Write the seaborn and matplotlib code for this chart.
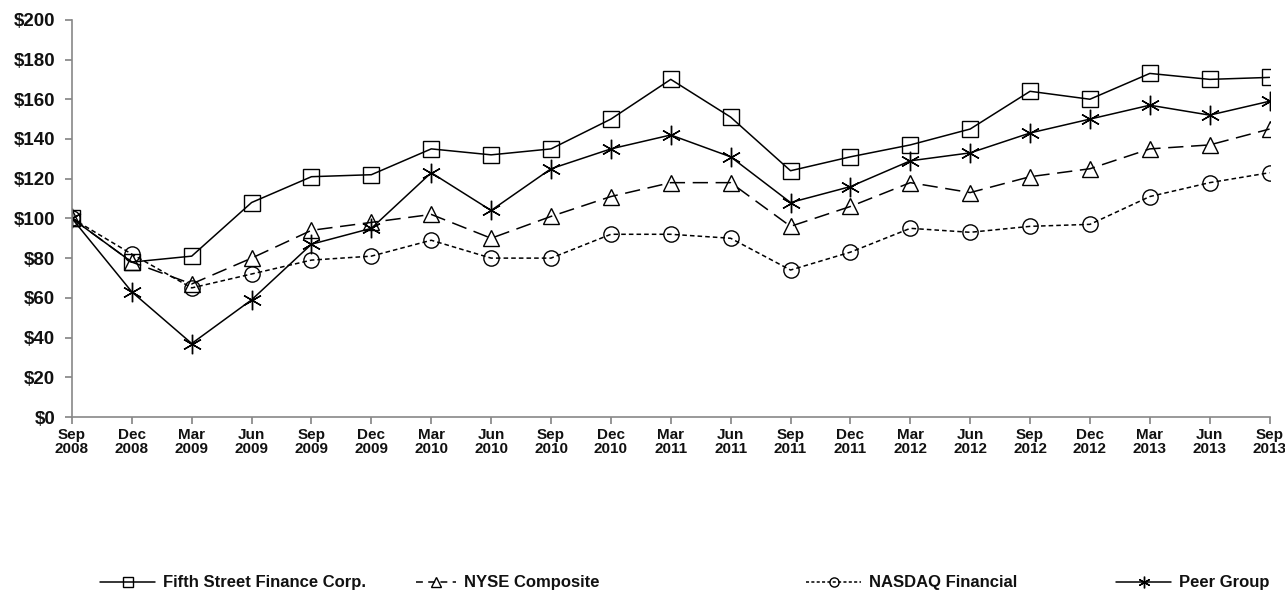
import matplotlib
matplotlib.use("Agg")
import matplotlib.pyplot as plt
from matplotlib.lines import Line2D
import seaborn as sns
import pandas as pd
import numpy as np

quarters = ["Sep\n2008", "Dec\n2008", "Mar\n2009", "Jun\n2009", "Sep\n2009", "Dec\n2009",
            "Mar\n2010", "Jun\n2010", "Sep\n2010", "Dec\n2010", "Mar\n2011", "Jun\n2011",
            "Sep\n2011", "Dec\n2011", "Mar\n2012", "Jun\n2012", "Sep\n2012", "Dec\n2012",
            "Mar\n2013", "Jun\n2013", "Sep\n2013"]

fifth_street = [100, 78, 81, 108, 121, 122, 135, 132, 135, 150, 170, 151, 124, 131, 137, 145, 164, 160, 173, 170, 171]
nyse_composite = [100, 78, 67, 80, 94, 98, 102, 90, 101, 111, 118, 118, 96, 106, 118, 113, 121, 125, 135, 137, 145]
nasdaq_financial = [100, 82, 65, 72, 79, 81, 89, 80, 80, 92, 92, 90, 74, 83, 95, 93, 96, 97, 111, 118, 123]
peer_group = [100, 63, 37, 59, 87, 95, 123, 104, 125, 135, 142, 131, 108, 116, 129, 133, 143, 150, 157, 152, 159]

series_names = ["Fifth Street Finance Corp.", "NYSE Composite", "NASDAQ Financial", "Peer Group"]
series_values = [fifth_street, nyse_composite, nasdaq_financial, peer_group]

sns.set_theme(style="white")
plt.rcParams['font.family'] = ['Liberation Sans', 'DejaVu Sans']
plt.rcParams['text.color'] = '#111111'
plt.rcParams['xtick.labelcolor'] = '#111111'
plt.rcParams['ytick.labelcolor'] = '#111111'

fig = plt.figure(figsize=(12.85, 6.0), dpi=100)
ax = fig.add_axes([0.056, 0.305, 0.932, 0.662])

styles = [
    dict(marker="s", linestyle="-", markersize=11, hl=3.3, legls="-"),
    dict(marker="^", linestyle=(0, (10, 5)), markersize=11, hl=2.4, legls=(0, (4.5, 3.5))),
    dict(marker="o", linestyle=(0, (3, 2)), markersize=11, hl=3.3, legls=(0, (2, 1.5))),
    dict(marker=(6, 2, 0), linestyle="-", markersize=14, hl=3.3, legls="-"),
]

x = np.arange(len(quarters))
for name, vals, st in zip(series_names, series_values, styles):
    df = pd.DataFrame({"q": x, "v": vals})
    sns.lineplot(data=df, x="q", y="v", ax=ax, color="black", linewidth=1.1,
                 marker=st["marker"], linestyle=st["linestyle"], markersize=st["markersize"],
                 markerfacecolor="none", markeredgecolor="black", markeredgewidth=1.0,
                 legend=False)

ax.set_xlim(0, len(quarters) - 1)
ax.set_ylim(0, 200)
ax.set_yticks(np.arange(0, 201, 20))
ax.set_yticklabels([f"${v}" for v in range(0, 201, 20)], fontsize=13.5, fontweight="bold")
ax.set_xticks(x)
ax.set_xticklabels(quarters, fontsize=11, fontweight="bold", linespacing=0.95)
ax.set_xlabel("")
ax.set_ylabel("")
for s in ["top", "right"]:
    ax.spines[s].set_visible(False)
for s in ["left", "bottom"]:
    ax.spines[s].set_color("#888888")
    ax.spines[s].set_linewidth(1.2)
ax.tick_params(axis="both", which="both", direction="out", length=5, color="#888888",
               left=True, bottom=True)
ax.tick_params(axis="y", pad=7)
ax.tick_params(axis="x", pad=3)

legend_x = [100, 416, 806, 1116]
for name, st, lx in zip(series_names, styles, legend_x):
    handle = Line2D([], [], color="black", linewidth=1.1, linestyle=st["legls"],
                    marker=st["marker"], markersize=st["markersize"] * 0.6,
                    markerfacecolor="none", markeredgecolor="black", markeredgewidth=1.0)
    fig.legend([handle], [name], loc="center left",
               bbox_to_anchor=(lx / 1285.0, 1 - 583 / 600.0),
               frameon=False, prop={"weight": "bold", "size": 12},
               handlelength=st["hl"], handletextpad=0.5,
               borderpad=0, borderaxespad=0)

fig.savefig("out.png", dpi=100)
